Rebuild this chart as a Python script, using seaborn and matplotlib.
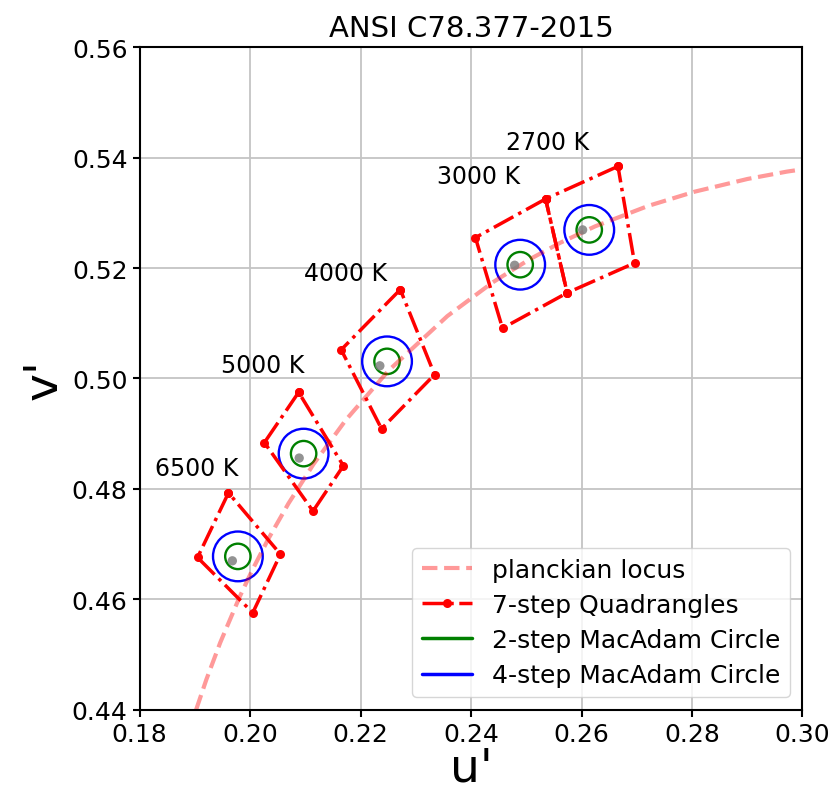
import numpy as np
import matplotlib
matplotlib.use("Agg")
import matplotlib.pyplot as plt
from matplotlib.patches import Circle
from matplotlib.lines import Line2D
import seaborn as sns

# planckian locus in CIE 1976 u'v' (10000 K down to 2000 K)
locus_u = [0.19025, 0.19210, 0.19461, 0.19815, 0.20049, 0.20337, 0.20696, 0.21150,
           0.21738, 0.22515, 0.23571, 0.24395, 0.25051, 0.25612, 0.26242, 0.27210,
           0.28050, 0.29006, 0.29719, 0.30502]
locus_v = [0.44006, 0.44552, 0.45220, 0.46054, 0.46549, 0.47107, 0.47738, 0.48451,
           0.49254, 0.50151, 0.51129, 0.51742, 0.52152, 0.52455, 0.52752, 0.53125,
           0.53382, 0.53612, 0.53745, 0.53860]

cct_labels = ["6500 K", "5000 K", "4000 K", "3000 K", "2700 K"]

# nominal centres (u', v')
center_u = [0.1978, 0.2097, 0.2248, 0.2489, 0.2614]
center_v = [0.4678, 0.4864, 0.5031, 0.5206, 0.5269]

# gray dots
dot_u = [0.1968, 0.2089, 0.2235, 0.2479, 0.2602]
dot_v = [0.4670, 0.4856, 0.5023, 0.5205, 0.5269]

# 7-step quadrangle corners (u', v')
quad_u = [
    [0.1961, 0.1905, 0.2005, 0.2055],
    [0.2088, 0.2026, 0.2114, 0.2169],
    [0.2272, 0.2165, 0.2238, 0.2334],
    [0.2535, 0.2408, 0.2457, 0.2574],
    [0.2666, 0.2535, 0.2574, 0.2696],
]
quad_v = [
    [0.4793, 0.4676, 0.4576, 0.4682],
    [0.4975, 0.4884, 0.4760, 0.4842],
    [0.5161, 0.5052, 0.4909, 0.5007],
    [0.5325, 0.5255, 0.5091, 0.5155],
    [0.5384, 0.5325, 0.5155, 0.5209],
]

r_2step = 0.0023
r_4step = 0.0045

sns.set_style("whitegrid", {
    "axes.edgecolor": "black",
    "grid.color": "#c4c4c4",
    "xtick.bottom": True,
    "ytick.left": True,
    "text.color": "black",
    "axes.labelcolor": "black",
    "xtick.color": "black",
    "ytick.color": "black",
})
plt.rcParams["font.family"] = ["DejaVu Sans"]
plt.rcParams["axes.linewidth"] = 1.5

fig = plt.figure(figsize=(8.31, 8.03), dpi=100)
ax = fig.add_axes([0.1673, 0.1146, 0.799, 0.8256])

sns.lineplot(x=locus_u, y=locus_v, sort=False, estimator=None, ax=ax,
             color="red", alpha=0.4, linestyle="--", linewidth=3)

for qu, qv in zip(quad_u, quad_v):
    sns.lineplot(x=qu + qu[:1], y=qv + qv[:1], sort=False, estimator=None, ax=ax,
                 color="red", linestyle="-.", linewidth=2.5,
                 marker="o", markersize=6.5, markeredgewidth=0)

for cu, cv in zip(center_u, center_v):
    ax.add_patch(Circle((cu, cv), r_2step, fill=False, edgecolor="green", linewidth=1.7))
    ax.add_patch(Circle((cu, cv), r_4step, fill=False, edgecolor="blue", linewidth=1.7))

sns.scatterplot(x=dot_u, y=dot_v, ax=ax, color="gray", s=45, alpha=0.85,
                edgecolor="none", zorder=4)

for lab, cu, cv in zip(cct_labels, center_u, center_v):
    ax.text(cu - 0.015, cv + 0.0147, lab, fontsize=17, ha="left", va="baseline")

ax.set_xlim(0.18, 0.30)
ax.set_ylim(0.44, 0.56)
ax.set_aspect("equal")
ax.set_xticks(np.arange(0.18, 0.3001, 0.02))
ax.set_yticks(np.arange(0.44, 0.5601, 0.02))
ax.set_xticklabels([f"{t:.2f}" for t in ax.get_xticks()])
ax.set_yticklabels([f"{t:.2f}" for t in ax.get_yticks()])
ax.tick_params(labelsize=18, length=5, width=1.5, direction="out")
ax.grid(True, linewidth=1.3)

ax.set_xlabel("u'", fontsize=34, labelpad=0)
ax.set_ylabel("v'", fontsize=34, labelpad=4)
ax.set_title("ANSI C78.377-2015", fontsize=21, pad=8)

handles = [
    Line2D([], [], color="red", alpha=0.4, linestyle="--", linewidth=3),
    Line2D([], [], color="red", linestyle="-.", linewidth=2.5, marker="o", markersize=6.5,
           markeredgewidth=0),
    Line2D([], [], color="green", linewidth=2.5),
    Line2D([], [], color="blue", linewidth=2.5),
]
labels = ["planckian locus", "7-step Quadrangles", "2-step MacAdam Circle", "4-step MacAdam Circle"]
ax.legend(handles, labels, loc="lower right", fontsize=18, frameon=True, framealpha=0.8,
          handlelength=2.0, borderpad=0.4, labelspacing=0.45)

fig.savefig("out.png", dpi=100)
